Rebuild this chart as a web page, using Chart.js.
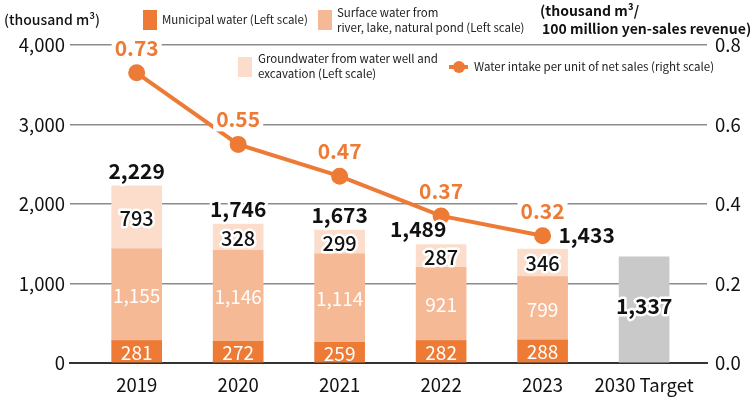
<!DOCTYPE html>
<html>
  <head>
    <meta charset="utf-8" />
    <title>Water intake</title>
    <script src="https://cdn.jsdelivr.net/npm/chart.js"></script>
    <style>
      body { margin: 0; background: #fff; }
    </style>
  </head>
  <body>
    <canvas id="waterChart" width="750" height="400"></canvas>

    <script>
      // Daten aus der Grafik
      var years = ["2019", "2020", "2021", "2022", "2023", "2030 Target"];
      var municipal = [281, 272, 259, 282, 288, null];
      var surface = [1155, 1146, 1114, 921, 799, null];
      var groundwater = [793, 328, 299, 287, 346, null];
      var target = [null, null, null, null, null, 1337];
      var totals = [2229, 1746, 1673, 1489, 1433, null];
      var intensity = [0.73, 0.55, 0.47, 0.37, 0.32, null];

      var FONT = "'Noto Sans CJK JP', 'Noto Sans', sans-serif";
      var orange = "#ED7A35";

      function pts(arr) {
        return arr.map(function (v, i) {
          return { x: i, y: v };
        });
      }

      function fmt(v) {
        return v.toLocaleString("en-US");
      }

      // Text mit weißem Rand
      function haloText(ctx, text, x, y, color) {
        ctx.lineJoin = "round";
        ctx.lineWidth = 5;
        ctx.strokeStyle = "#fff";
        ctx.strokeText(text, x, y);
        ctx.fillStyle = color;
        ctx.fillText(text, x, y);
      }

      // Beschriftungen der Balken und der Linie
      var labelPlugin = {
        id: "labels",
        afterDatasetsDraw: function (chart) {
          var ctx = chart.ctx;
          ctx.save();
          ctx.textAlign = "center";
          ctx.textBaseline = "middle";

          // Segmentwerte
          [0, 1, 2, 3].forEach(function (di) {
            var ds = chart.data.datasets[di];
            chart.getDatasetMeta(di).data.forEach(function (el, i) {
              var v = ds.data[i].y;
              if (v == null) return;
              var cy = (el.y + el.base) / 2 + 1;
              if (di < 2) {
                ctx.font = "19px " + FONT;
                ctx.fillStyle = "#fff";
                ctx.fillText(fmt(v), el.x, cy);
              } else if (di === 2) {
                ctx.font = "500 20px " + FONT;
                haloText(ctx, fmt(v), el.x, cy, "#111");
              } else {
                ctx.font = "bold 21px " + FONT;
                haloText(ctx, fmt(v), el.x, cy - 4, "#111");
              }
            });
          });

          // Summen oberhalb der Balken
          var shiftX = [0, 0, 0, -23, 44];
          var shiftY = [-15, -15, -15, -16, -14];
          var topMeta = chart.getDatasetMeta(2);
          ctx.font = "bold 21px " + FONT;
          totals.forEach(function (t, i) {
            if (t == null) return;
            var el = topMeta.data[i];
            haloText(ctx, fmt(t), el.x + shiftX[i], el.y + shiftY[i], "#111");
          });

          // Linienwerte
          var lineMeta = chart.getDatasetMeta(4);
          ctx.font = "bold 21px " + FONT;
          intensity.forEach(function (v, i) {
            if (v == null) return;
            var el = lineMeta.data[i];
            var txt = v.toFixed(2);
            var w = ctx.measureText(txt).width;
            var y = el.y - 25;
            ctx.fillStyle = "#fff";
            ctx.fillRect(el.x - w / 2 - 3, y - 12, w + 6, 24);
            ctx.fillStyle = orange;
            ctx.fillText(txt, el.x, y);
          });
          ctx.restore();
        },
        afterDraw: function (chart) {
          var ctx = chart.ctx;
          var ds = chart.data.datasets;
          ctx.save();
          ctx.textBaseline = "middle";
          ctx.textAlign = "left";

          // Achsentitel
          ctx.font = "500 14px " + FONT;
          ctx.fillStyle = "#111";
          ctx.fillText("(thousand m³)", 4, 20);
          ctx.font = "bold 14px " + FONT;
          ctx.fillText("(thousand m³/", 540, 11);
          ctx.fillText("100 million yen-sales revenue)", 542, 29);

          // Legende
          ctx.font = "11.5px " + FONT;
          function box(x, y, color) {
            ctx.fillStyle = color;
            ctx.fillRect(x, y, 14, 20);
          }
          box(143, 10, ds[0].backgroundColor);
          ctx.fillStyle = "#222";
          ctx.fillText(ds[0].label, 162, 20);

          box(318, 10, ds[1].backgroundColor);
          ctx.fillStyle = "#222";
          ctx.fillText(ds[1].label[0], 337, 13);
          ctx.fillText(ds[1].label[1], 337, 28);

          box(238, 57, ds[2].backgroundColor);
          ctx.fillStyle = "#222";
          ctx.fillText(ds[2].label[0], 258, 59);
          ctx.fillText(ds[2].label[1], 258, 74);

          ctx.strokeStyle = orange;
          ctx.lineWidth = 4;
          ctx.beginPath();
          ctx.moveTo(449, 67);
          ctx.lineTo(468, 67);
          ctx.stroke();
          ctx.fillStyle = orange;
          ctx.beginPath();
          ctx.arc(459, 67, 6, 0, Math.PI * 2);
          ctx.fill();
          ctx.fillStyle = "#222";
          ctx.fillText(ds[4].label, 474, 67);
          ctx.restore();
        },
      };

      var ctx = document.getElementById("waterChart").getContext("2d");
      var myChart = new Chart(ctx, {
        data: {
          datasets: [
            {
              type: "bar",
              label: "Municipal water (Left scale)",
              data: pts(municipal),
              backgroundColor: "#ED7A35",
              barThickness: 50,
              order: 2,
            },
            {
              type: "bar",
              label: ["Surface water from", "river, lake, natural pond (Left scale)"],
              data: pts(surface),
              backgroundColor: "#F5B996",
              barThickness: 50,
              order: 2,
            },
            {
              type: "bar",
              label: ["Groundwater from water well and", "excavation (Left scale)"],
              data: pts(groundwater),
              backgroundColor: "#FCDDCB",
              barThickness: 50,
              order: 2,
            },
            {
              type: "bar",
              label: "2030 Target",
              data: pts(target),
              backgroundColor: "#C9C9C9",
              barThickness: 50,
              order: 2,
            },
            {
              type: "line",
              label: "Water intake per unit of net sales (right scale)",
              data: pts(intensity),
              yAxisID: "y1",
              borderColor: orange,
              backgroundColor: orange,
              borderWidth: 4,
              pointRadius: 6.5,
              pointHoverRadius: 6.5,
              order: 1,
            },
          ],
        },
        options: {
          responsive: false,
          animation: false,
          devicePixelRatio: 1,
          layout: { padding: { top: 45, left: 0, right: 0, bottom: 0 } },
          plugins: {
            legend: { display: false },
            tooltip: { enabled: false },
          },
          scales: {
            x: {
              type: "linear",
              offset: false,
              stacked: true,
              min: -0.657,
              max: 5.62,
              afterBuildTicks: function (axis) {
                axis.ticks = years.map(function (y, i) {
                  return { value: i };
                });
              },
              afterFit: function (axis) {
                axis.height = 37;
              },
              ticks: {
                autoSkip: false,
                maxRotation: 0,
                padding: 3,
                color: "#111",
                font: { family: FONT, size: 18.5 },
                callback: function (v) {
                  return years[v];
                },
              },
              grid: { display: false },
              border: { display: true, color: "#333", width: 2 },
            },
            y: {
              position: "left",
              stacked: true,
              min: 0,
              max: 4000,
              afterFit: function (axis) {
                axis.width = 70;
              },
              ticks: {
                stepSize: 1000,
                padding: 5,
                color: "#111",
                font: { family: FONT, size: 18.5 },
                callback: function (v) {
                  return fmt(v);
                },
              },
              grid: {
                color: function (c) {
                  return c.tick.value === 0 ? "rgba(0,0,0,0)" : "#8c8c8c";
                },
                lineWidth: 1.5,
                drawTicks: false,
              },
              border: { display: false },
            },
            y1: {
              position: "right",
              min: 0,
              max: 0.8,
              afterFit: function (axis) {
                axis.width = 43;
              },
              ticks: {
                stepSize: 0.2,
                padding: 8,
                color: "#111",
                font: { family: FONT, size: 18.5 },
                callback: function (v) {
                  return v.toFixed(1);
                },
              },
              grid: { display: false, drawTicks: false },
              border: { display: false },
            },
          },
        },
        plugins: [labelPlugin],
      });
    </script>
  </body>
</html>
